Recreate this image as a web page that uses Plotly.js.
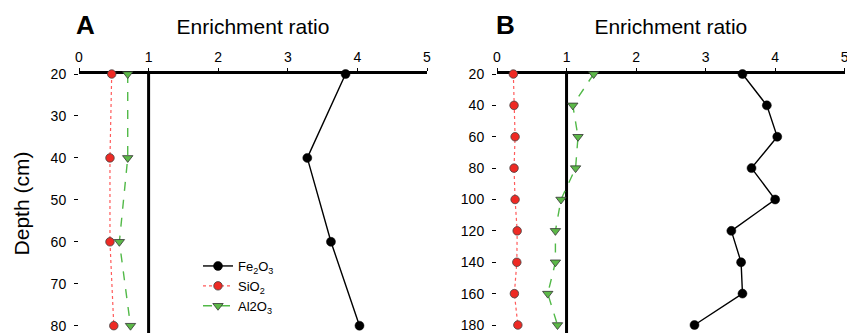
<!DOCTYPE html>
<html>
<head>
<meta charset="utf-8">
<script src="https://cdn.plot.ly/plotly-3.0.1.min.js"></script>
<style>html,body{margin:0;padding:0;background:#fff;}#chart{width:847px;height:333px;}</style>
</head>
<body>
<div id="chart"></div>
<script>
// Panel A (depth 20-80 cm)
const depthA = [20, 40, 60, 80];
const feA = [3.83, 3.28, 3.62, 4.03];
const siA = [0.47, 0.445, 0.445, 0.50];
const alA = [0.70, 0.70, 0.58, 0.74];
const yTicksA = [20, 30, 40, 50, 60, 70, 80];

// Panel B (depth 20-180 cm)
const depthB = [20, 40, 60, 80, 100, 120, 140, 160, 180];
const feB = [3.53, 3.88, 4.03, 3.66, 4.00, 3.37, 3.51, 3.53, 2.84];
const siB = [0.235, 0.245, 0.26, 0.245, 0.26, 0.29, 0.285, 0.25, 0.30];
const alB = [1.39, 1.09, 1.165, 1.13, 0.92, 0.84, 0.84, 0.73, 0.87];
const yTicksB = [20, 40, 60, 80, 100, 120, 140, 160, 180];

const xTicks = [0, 1, 2, 3, 4, 5];
const seriesNames = ['Fe<sub>2</sub>O<sub>3</sub>', 'SiO<sub>2</sub>', 'Al2O<sub>3</sub>'];
const panelLabels = ['A', 'B'];
const xTitle = 'Enrichment ratio';
const yTitle = 'Depth (cm)';

const FONT = 'Arial, "Liberation Sans", sans-serif';

const styles = [
  {line: {color: '#000000', width: 1.4, dash: 'solid'},
   marker: {symbol: 'circle', size: 9, color: '#000000', line: {color: '#000000', width: 0.5}}},
  {line: {color: '#ff5a5a', width: 1.2, dash: 'dot'},
   marker: {symbol: 'circle', size: 8.5, color: '#ee2a24', line: {color: '#444444', width: 0.8}}},
  {line: {color: '#52b948', width: 1.4, dash: 'dash'},
   marker: {symbol: 'triangle-down', size: 9, color: '#5cb848', line: {color: '#333333', width: 0.8}}}
];

function mk(xs, ys, i, xa, ya, show) {
  return {
    x: xs, y: ys, type: 'scatter', mode: 'lines+markers',
    name: seriesNames[i], showlegend: show, cliponaxis: false,
    xaxis: xa, yaxis: ya,
    line: styles[i].line, marker: styles[i].marker
  };
}

const data = [
  mk(feA, depthA, 0, 'x', 'y', true),
  mk(siA, depthA, 1, 'x', 'y', true),
  mk(alA, depthA, 2, 'x', 'y', true),
  mk(feB, depthB, 0, 'x2', 'y2', false),
  mk(siB, depthB, 1, 'x2', 'y2', false),
  mk(alB, depthB, 2, 'x2', 'y2', false)
];

const W = 847, H = 333;
const yDomTop = (H - 74) / H;

function xaxis(dom) {
  return {
    domain: dom, range: [0, 5], side: 'top',
    showline: true, linewidth: 3, linecolor: '#000',
    ticks: 'outside', ticklen: 3, tickwidth: 1, tickcolor: '#000',
    tickmode: 'array', tickvals: xTicks, showgrid: false, zeroline: false,
    layer: 'below traces', ticklabelstandoff: 0, ticklabeloverflow: 'allow',
    tickfont: {family: FONT, size: 14, color: '#000'},
    title: {text: xTitle, font: {family: FONT, size: 21, color: '#000'}, standoff: 10}
  };
}
function yaxis(range, tv, anchor, withTitle) {
  const a = {
    domain: [0, yDomTop], range: range, anchor: anchor,
    showline: false, ticks: 'outside', ticklen: 4, tickwidth: 1, tickcolor: '#000',
    tickmode: 'array', tickvals: tv, showgrid: false, zeroline: false,
    ticklabelstandoff: 5, ticklabeloverflow: 'allow',
    tickfont: {family: FONT, size: 14, color: '#000'}
  };
  if (withTitle) a.title = {text: yTitle, font: {family: FONT, size: 21, color: '#000'}, standoff: 15};
  return a;
}

const layout = {
  width: W, height: H,
  margin: {l: 0, r: 0, t: 0, b: 0},
  paper_bgcolor: '#fff', plot_bgcolor: 'rgba(0,0,0,0)',
  font: {family: FONT, color: '#000'},
  xaxis: Object.assign(xaxis([79 / W, 427 / W]), {anchor: 'y'}),
  yaxis: yaxis([81.74, 20], yTicksA, 'x', true),
  xaxis2: Object.assign(xaxis([497 / W, 844.7 / W]), {anchor: 'y2'}),
  yaxis2: yaxis([185.1, 20], yTicksB, 'x2', false),
  showlegend: true,
  legend: {
    x: 198 / W, y: (H - 251) / H, xanchor: 'left', yanchor: 'top',
    bgcolor: 'rgba(255,255,255,0)', borderwidth: 0,
    font: {family: FONT, size: 13, color: '#000'},
    tracegroupgap: 0
  },
  shapes: [
    {type: 'line', xref: 'x', yref: 'y domain', x0: 1, x1: 1, y0: 0, y1: 1,
     line: {color: '#000', width: 3}, layer: 'below'},
    {type: 'line', xref: 'x2', yref: 'y2 domain', x0: 1, x1: 1, y0: 0, y1: 1,
     line: {color: '#000', width: 3}, layer: 'below'}
  ],
  annotations: [
    {text: '<b>' + panelLabels[0] + '</b>', xref: 'paper', yref: 'paper',
     x: 74 / W, y: (H - 8) / H, xanchor: 'left', yanchor: 'top', showarrow: false,
     font: {family: FONT, size: 26, color: '#000'}},
    {text: '<b>' + panelLabels[1] + '</b>', xref: 'paper', yref: 'paper',
     x: 494 / W, y: (H - 8) / H, xanchor: 'left', yanchor: 'top', showarrow: false,
     font: {family: FONT, size: 26, color: '#000'}}
  ]
};

Plotly.newPlot('chart', data, layout, {staticPlot: true, displayModeBar: false});
</script>
</body>
</html>
